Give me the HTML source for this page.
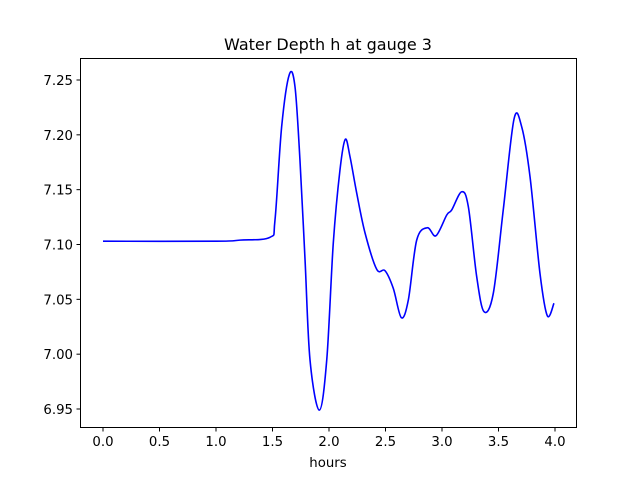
<!DOCTYPE html>
<html><head><meta charset="utf-8"><style>
body{margin:0;background:#fff}
svg text{font-family:"DejaVu Sans","Liberation Sans",sans-serif;fill:#000}
</style></head><body>
<svg id="chart" width="640" height="480" xmlns="http://www.w3.org/2000/svg">
<rect x="0" y="0" width="640" height="480" fill="#fff"/>
<text x="328" y="50" font-size="16" text-anchor="middle">Water Depth h at gauge 3</text>
<g id="plot"></g>
<g id="xt"></g><g id="yt"></g>
<rect x="80.5" y="58.5" width="496" height="369" fill="none" stroke="#000" stroke-width="1"/>
<text x="328" y="467" font-size="13.3" text-anchor="middle">hours</text>
</svg>
<script>
const times=[0,1.0,1.212,1.478,1.522,1.581,1.649,1.699,1.743,1.788,1.832,1.914,1.980,2.038,2.097,2.144,2.186,2.245,2.319,2.422,2.496,2.569,2.640,2.702,2.776,2.870,2.947,3.042,3.086,3.174,3.233,3.307,3.372,3.454,3.542,3.637,3.705,3.779,3.867,3.932,3.991];
const depths=[7.103,7.103,7.104,7.1066,7.1223,7.2074,7.255,7.2439,7.177,7.0859,6.9947,6.949,6.9947,7.1014,7.1679,7.1959,7.180,7.147,7.1105,7.0774,7.0761,7.060,7.0333,7.0494,7.104,7.1153,7.108,7.1269,7.1315,7.1481,7.1345,7.0707,7.0387,7.0555,7.1315,7.2142,7.2074,7.1618,7.0737,7.035,7.0464];
const xTicks=[0,0.5,1.0,1.5,2.0,2.5,3.0,3.5,4.0];
const xTickLabels=["0.0","0.5","1.0","1.5","2.0","2.5","3.0","3.5","4.0"];
const yTicks=[6.95,7.00,7.05,7.10,7.15,7.20,7.25];
const yTickLabels=["6.95","7.00","7.05","7.10","7.15","7.20","7.25"];

const X=t=>103+t*113;
const Y=h=>80+(7.25-h)*1096.7;
const NS="http://www.w3.org/2000/svg";
const xt=document.getElementById('xt'), yt=document.getElementById('yt'), plot=document.getElementById('plot');
xTicks.forEach((t,i)=>{
  const l=document.createElementNS(NS,'line');
  
  
  l.setAttribute('x1',X(t));l.setAttribute('x2',X(t));l.setAttribute('y1',427.5);l.setAttribute('y2',431.5);l.setAttribute('stroke','#000');
  xt.appendChild(l);
  const tx=document.createElementNS(NS,'text');
  
  
  tx.setAttribute('x',X(t));tx.setAttribute('y',446);tx.setAttribute('font-size','13.3');tx.setAttribute('text-anchor','middle');
  tx.textContent=xTickLabels[i];xt.appendChild(tx);
});
yTicks.forEach((h,i)=>{
  const l=document.createElementNS(NS,'line');
  
  
  l.setAttribute('x1',76.5);l.setAttribute('x2',80.5);l.setAttribute('y1',Y(h));l.setAttribute('y2',Y(h));l.setAttribute('stroke','#000');
  yt.appendChild(l);
  const tx=document.createElementNS(NS,'text');
  
  
  tx.setAttribute('x',73);tx.setAttribute('y',Y(h)+5);tx.setAttribute('font-size','13.3');tx.setAttribute('text-anchor','end');
  tx.textContent=yTickLabels[i];yt.appendChild(tx);
});
const pts=times.map((t,i)=>[X(t),Y(depths[i])]);
let d='M'+pts[0][0]+','+pts[0][1];
for(let i=0;i<pts.length-1;i++){
  const p0=pts[Math.max(0,i-1)],p1=pts[i],p2=pts[i+1],p3=pts[Math.min(pts.length-1,i+2)];
  const c1=[p1[0]+(p2[0]-p0[0])/6,p1[1]+(p2[1]-p0[1])/6];
  const c2=[p2[0]-(p3[0]-p1[0])/6,p2[1]-(p3[1]-p1[1])/6];
  d+=` C${c1[0]},${c1[1]} ${c2[0]},${c2[1]} ${p2[0]},${p2[1]}`;
}
const path=document.createElementNS(NS,'path');


path.setAttribute('d',d);path.setAttribute('fill','none');path.setAttribute('stroke','#0000ff');path.setAttribute('stroke-width','1.6');
plot.appendChild(path);
</script>
</body></html>
